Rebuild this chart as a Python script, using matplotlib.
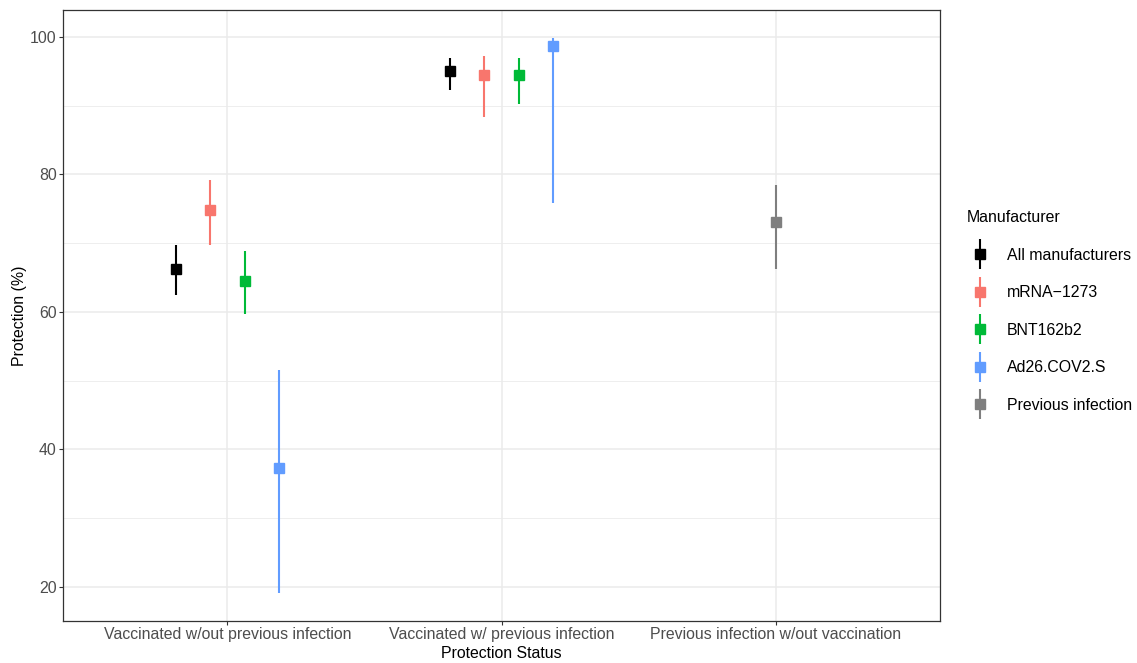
import matplotlib.pyplot as plt
from matplotlib.lines import Line2D
import numpy as np

plt.rcParams['font.family'] = ['Liberation Sans', 'DejaVu Sans']

# categorias y series
status = ["Vaccinated w/out previous infection",
          "Vaccinated w/ previous infection",
          "Previous infection w/out vaccination"]
manufacturers = ["All manufacturers", "mRNA\u22121273", "BNT162b2",
                 "Ad26.COV2.S", "Previous infection"]
colors = ["#000000", "#F8766D", "#00BA38", "#619CFF", "#7F7F7F"]

# para cada fabricante: indice de categoria, estimacion, limite inferior, superior
all_cat = [0, 1]
all_est = [66.3, 95.1]
all_lo = [62.4, 92.2]
all_hi = [69.7, 96.9]

mrna_cat = [0, 1]
mrna_est = [74.8, 94.4]
mrna_lo = [69.7, 88.3]
mrna_hi = [79.2, 97.2]

bnt_cat = [0, 1]
bnt_est = [64.5, 94.5]
bnt_lo = [59.7, 90.2]
bnt_hi = [68.9, 96.9]

ad26_cat = [0, 1]
ad26_est = [37.3, 98.6]
ad26_lo = [19.1, 75.8]
ad26_hi = [51.5, 99.9]

prev_cat = [2]
prev_est = [73.0]
prev_lo = [66.2]
prev_hi = [78.5]

series = [(all_cat, all_est, all_lo, all_hi),
          (mrna_cat, mrna_est, mrna_lo, mrna_hi),
          (bnt_cat, bnt_est, bnt_lo, bnt_hi),
          (ad26_cat, ad26_est, ad26_lo, ad26_hi),
          (prev_cat, prev_est, prev_lo, prev_hi)]

fig = plt.figure(figsize=(11.37, 6.63), dpi=100)
ax = fig.add_axes([63/1137, 42/663, 877/1137, 611/663])

# dodge como ggplot (ancho 0.5)
dodge = 0.5
for k, (cat, est, lo, hi) in enumerate(series):
    xs = []
    for c in cat:
        members = [j for j, s in enumerate(series) if c in s[0]]
        pos = members.index(k)
        w = dodge / len(members)
        xs.append(c + 1 - dodge / 2 + w * (pos + 0.5))
    est = np.array(est)
    yerr = [est - np.array(lo), np.array(hi) - est]
    ax.errorbar(xs, est, yerr=yerr, fmt="s", color=colors[k], ecolor=colors[k],
                elinewidth=1.5, markersize=6.5, capsize=0, zorder=3)

ax.set_xlim(0.4, 3.6)
ax.set_ylim(15.05, 103.9)
ax.set_xticks([1, 2, 3])
ax.set_xticklabels(status)
ax.set_yticks([20, 40, 60, 80, 100])
ax.set_yticks([30, 50, 70, 90], minor=True)

ax.grid(which="major", color="#EBEBEB", linewidth=1.1, zorder=0)
ax.grid(which="minor", axis="y", color="#EBEBEB", linewidth=0.6, zorder=0)
ax.set_axisbelow(True)
for s in ax.spines.values():
    s.set_color("#333333")
    s.set_linewidth(0.9)
ax.tick_params(which="major", length=3, color="#333333", labelsize=11.4,
               labelcolor="#4D4D4D", width=0.8, pad=1.5)
ax.tick_params(which="minor", length=0)

ax.set_xlabel("Protection Status", fontsize=11.4, labelpad=3)
ax.set_ylabel("Protection (%)", fontsize=11.4, labelpad=2)

# leyenda: linea vertical + cuadrado
handles = []
for c in colors:
    vline = Line2D([], [], linestyle="none", marker="|", markersize=21,
                   markeredgewidth=1.5, color=c)
    sq = Line2D([], [], linestyle="none", marker="s", markersize=6.5, color=c)
    handles.append((vline, sq))

fig.legend(handles, manufacturers, loc="upper left",
           bbox_to_anchor=(953/1137, 1 - 196/663),
           title="Manufacturer", frameon=False, fontsize=11.4, title_fontsize=11.4,
           labelspacing=1.42, handlelength=1.6, handleheight=0.7,
           handletextpad=0.9, alignment="left")

fig.savefig("out.png", dpi=100)
